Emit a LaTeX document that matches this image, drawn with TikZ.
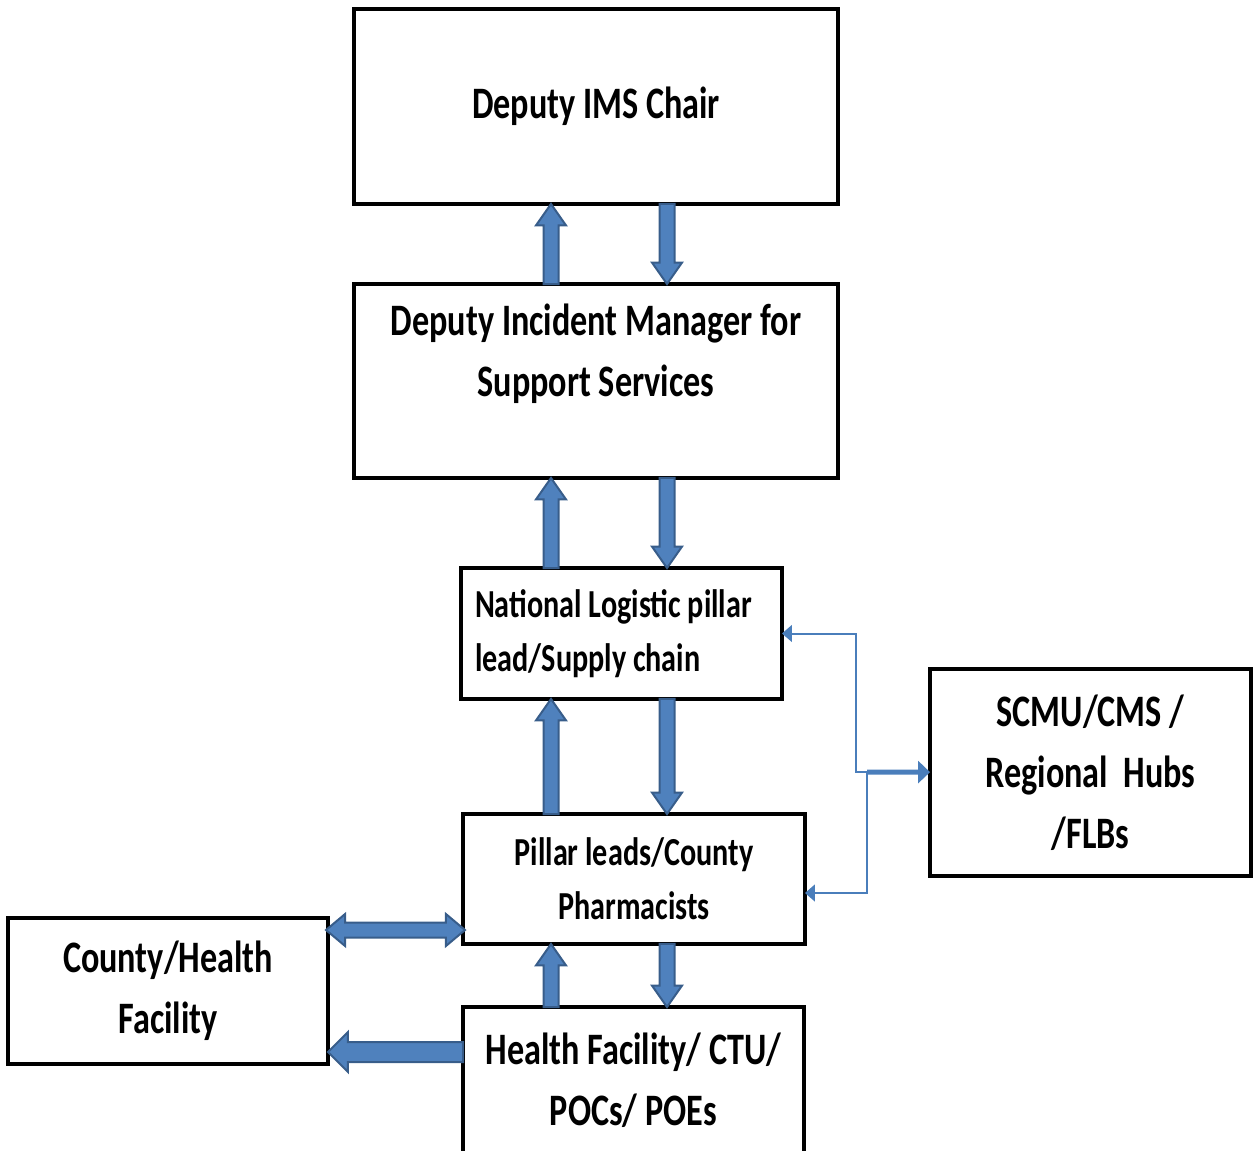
\documentclass[tikz,border=0pt]{standalone}
\usepackage{fontspec}
\setmainfont[FakeStretch=0.76]{Carlito}
\usepackage{tikz}
\usetikzlibrary{arrows.meta, calc, shapes.arrows}

\definecolor{arrowfill}{HTML}{4F81BD}
\definecolor{arrowline}{HTML}{385D8A}
\definecolor{linkblue}{HTML}{4A7EBB}

\newcommand{\blockarrow}[3][]{%
  \path let \p1=($(#3)-(#2)$), \n1={veclen(\x1,\y1)} in
    (#2) -- (#3) node[pos=0, sloped, allow upside down, anchor=tail, bigarrow, minimum height=\n1, #1] {};}

\begin{document}
\begin{tikzpicture}[x=0.02cm, y=-0.02cm,
    box/.style={draw, line width=0.085cm, inner sep=0pt, outer sep=0pt, align=center,
      font=\bfseries\fontsize{25.6pt}{34.7pt}\selectfont},
    smallbox/.style={box, font=\bfseries\fontsize{22.6pt}{30.7pt}\selectfont},
    bigarrow/.style={single arrow, draw=arrowline, fill=arrowfill, line width=0.04cm,
      inner xsep=0pt, inner ysep=0.13cm, minimum width=0pt, outer sep=0pt,
      single arrow head extend=0.15cm, single arrow tip angle=70, single arrow head indent=0pt},
    twoarrow/.style={double arrow, draw=arrowline, fill=arrowfill, line width=0.04cm,
      inner xsep=0pt, inner ysep=0.13cm, minimum width=0pt, outer sep=0pt,
      double arrow head extend=0.17cm, double arrow tip angle=80, double arrow head indent=0pt},
    thinlink/.style={draw=linkblue, line width=0.04cm, -{Triangle[width=9.6pt, length=5.7pt]}},
    thicklink/.style={draw=linkblue, line width=0.1cm, -{Triangle[width=12.5pt, length=6.8pt]}}]
  \useasboundingbox (0,0) rectangle (1253,1151);

  \node[box, minimum width=9.68cm, minimum height=3.9cm] (ims) at (596,106.5) {Deputy IMS Chair};
  \node[box, minimum width=9.68cm, minimum height=3.88cm] (dim) at (596,381)
    {Deputy Incident Manager for\\Support Services\\~};
  \node[smallbox, minimum width=6.42cm, minimum height=2.62cm, align=flush left,
    text width=5.86cm, inner xsep=0.28cm] (nlp) at (621.5,633.5)
    {National Logistic pillar\\lead/Supply chain};
  \node[smallbox, minimum width=6.84cm, minimum height=2.6cm] (pillar) at (634,879)
    {Pillar leads/County\\Pharmacists};
  \node[box, minimum width=6.42cm, minimum height=4.14cm] (scmu) at (1090.5,772.5)
    {SCMU/CMS /\\Regional\ \ Hubs\\/FLBs};
  \node[box, minimum width=6.4cm, minimum height=2.92cm] (chf) at (168,991)
    {County/Health\\Facility};
  \node[box, minimum width=6.82cm, minimum height=2.92cm] (hf) at (633.5,1080)
    {Health Facility/ CTU/\\POCs/ POEs};

  \coordinate (upx) at (551,0);
  \coordinate (dnx) at (667,0);
  \coordinate (topy) at (0,930);
  \coordinate (boty) at (0,1052);

  \blockarrow{dim.north -| upx}{ims.south -| upx}
  \blockarrow{ims.south -| dnx}{dim.north -| dnx}
  \blockarrow{nlp.north -| upx}{dim.south -| upx}
  \blockarrow{dim.south -| dnx}{nlp.north -| dnx}
  \blockarrow{pillar.north -| upx}{nlp.south -| upx}
  \blockarrow{nlp.south -| dnx}{pillar.north -| dnx}
  \blockarrow{hf.north -| upx}{pillar.south -| upx}
  \blockarrow{pillar.south -| dnx}{hf.north -| dnx}
  \blockarrow[inner ysep=0.18cm, single arrow head extend=0.2cm, single arrow tip angle=90]{hf.west |- boty}{chf.east |- boty}
  \path (chf.east |- topy) -- (pillar.west |- topy) node[midway, twoarrow, minimum height=2.78cm] {};

  \coordinate (jn) at (856,772);
  \coordinate (js) at (867,772);
  \draw[thinlink] (js) -- (jn) |- (nlp);
  \draw[thinlink] (js) |- ([yshift=-0.28cm]pillar.east);
  \draw[thicklink] (js) -- (scmu);
\end{tikzpicture}
\end{document}
